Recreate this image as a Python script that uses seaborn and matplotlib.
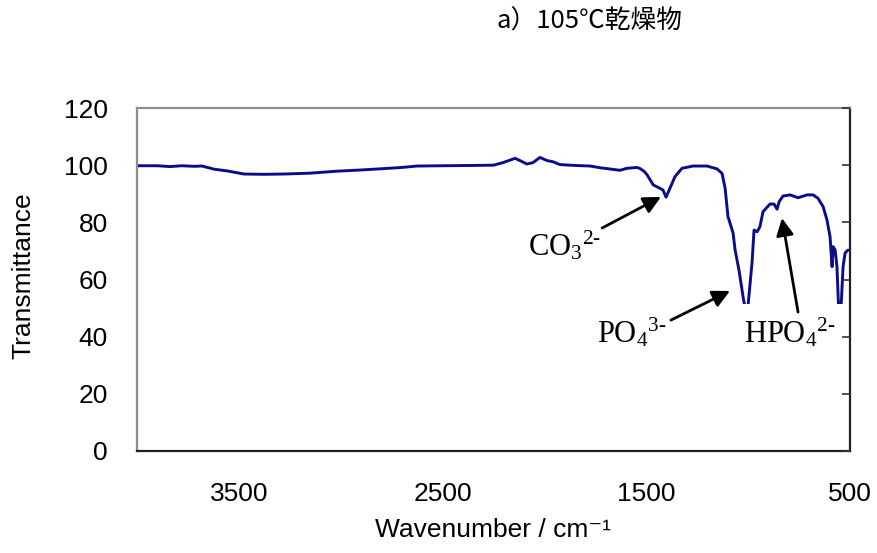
"""
FT-IR spectrum of the sample dried at 105 C, with band assignments.
"""

import matplotlib
matplotlib.use('Agg')
import matplotlib.pyplot as plt
import seaborn as sns

# spectrum (wavenumber in cm-1, transmittance in %)
wavenumber = [4000, 3900, 3838, 3780, 3720, 3681, 3622, 3558, 3475, 3380,
              3278, 3151, 3018, 2905, 2787, 2700, 2625, 2500, 2350, 2250,
              2203, 2144, 2120, 2086, 2056, 2022, 1987, 1958, 1924, 1850,
              1776, 1727, 1693, 1629, 1595, 1546, 1530, 1510, 1496, 1466,
              1433, 1418, 1403, 1384, 1359, 1325, 1271, 1202, 1153, 1128,
              1113, 1099, 1074, 1064, 1045, 1025, 1015, 1008, 1001, 981,
              971, 956, 942, 927, 893, 873, 858, 848, 829, 794,
              755, 711, 681, 657, 632, 613, 598, 588, 583, 573,
              564, 556, 549, 544, 534, 524, 510]
transmittance = [99.8, 99.8, 99.5, 99.8, 99.6, 99.7, 98.6, 98.0, 96.9, 96.8,
                 96.9, 97.2, 97.9, 98.3, 98.8, 99.2, 99.7, 99.8, 99.9, 100.0,
                 100.9, 102.4, 101.6, 100.4, 100.9, 102.7, 101.6, 101.2, 100.2, 99.9,
                 99.7, 99.1, 98.8, 98.2, 98.9, 99.2, 98.8, 97.8, 96.6, 93.1,
                 91.9, 91.3, 88.8, 91.9, 96.0, 98.9, 99.7, 99.7, 98.7, 97.1,
                 91.9, 82.0, 76.3, 70.3, 63.3, 54.0, 50.0, 44.0, 50.5, 65.8,
                 77.3, 76.7, 78.5, 83.7, 86.4, 86.4, 84.6, 87.2, 89.2, 89.6,
                 88.6, 89.6, 89.6, 88.4, 85.5, 80.8, 75.0, 64.5, 71.5, 70.3,
                 64.5, 50.0, 42.0, 50.0, 64.5, 69.3, 70.3]

x_ticks = [3500, 2500, 1500, 500]
y_ticks = [0, 20, 40, 60, 80, 100, 120]

# band labels: text, label position, arrow tail, arrow head
band_labels = [r'$\mathrm{CO}_3{}^{2\text{-}}$', r'$\mathrm{PO}_4{}^{3\text{-}}$',
               r'$\mathrm{HPO}_4{}^{2\text{-}}$']
label_xy = [(1899, 71.7), (1570, 41.3), (794, 41.3)]
arrow_tail = [(1717, 78.0), (1379, 45.8), (755, 48.6)]
arrow_head = [(1428, 88.9), (1089, 56.0), (834, 81.5)]

sns.set_style('white')
plt.rcParams['font.family'] = ['Liberation Sans', 'DejaVu Sans']
plt.rcParams['mathtext.fontset'] = 'custom'
plt.rcParams['mathtext.rm'] = 'Liberation Serif'
plt.rcParams['mathtext.it'] = 'Liberation Serif:italic'
plt.rcParams['text.color'] = 'black'
plt.rcParams['axes.labelcolor'] = 'black'
plt.rcParams['xtick.color'] = 'black'
plt.rcParams['ytick.color'] = 'black'

fig = plt.figure(figsize=(8.78, 5.53), dpi=100)
ax = fig.add_axes([137 / 878, 1 - 451 / 553, 713 / 878, 343 / 553])
ax.set_axisbelow(False)

sns.lineplot(x=wavenumber, y=transmittance, ax=ax, color='#0c0c8a',
             linewidth=2.1, estimator=None, sort=False, zorder=2)

ax.set_xlim(4000, 500)
ax.set_ylim(0, 120)
ax.set_xticks(x_ticks)
ax.set_yticks(y_ticks)
ax.tick_params(axis='x', direction='in', length=6, width=1.2, color='#333333',
               pad=22, labelsize=19)
ax.tick_params(axis='y', direction='in', length=6, width=1.2, color='#333333',
               left=False, right=True, labelleft=True, labelright=False,
               pad=21, labelsize=19)

for side in ['top', 'left']:
    ax.spines[side].set_color('#8c8c8c')
    ax.spines[side].set_linewidth(1.6)
for side in ['bottom', 'right']:
    ax.spines[side].set_color('#222222')
    ax.spines[side].set_linewidth(1.6)

ax.set_xlabel('Wavenumber / cm⁻¹', fontsize=19, va='center')
ax.xaxis.set_label_coords(0.499, -0.23)
ax.set_ylabel('Transmittance', fontsize=19, va='center')
ax.yaxis.set_label_coords(-0.16, 0.51)

for text, pos, tail, head in zip(band_labels, label_xy, arrow_tail, arrow_head):
    ax.text(pos[0], pos[1], text, ha='center', va='center', fontsize=22,
            zorder=2.2,
            bbox=dict(boxstyle='square,pad=0.4', facecolor='white', edgecolor='none'))
    ax.annotate('', xy=head, xytext=tail, zorder=3,
                arrowprops=dict(arrowstyle='-|>', mutation_scale=26, lw=2,
                                color='black', shrinkA=0, shrinkB=0))

fig.text(497 / 878, 1 - 22 / 553, 'a）105℃乾燥物', ha='left', va='center',
         fontsize=18.5, family=['Noto Sans CJK JP', 'DejaVu Sans'])

fig.savefig('out.png', dpi=100)
plt.close(fig)
